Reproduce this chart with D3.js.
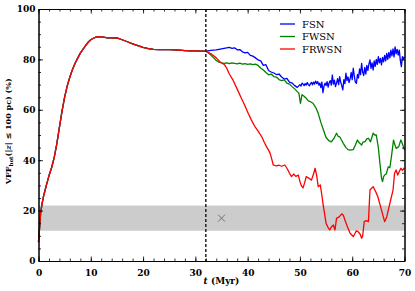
<!DOCTYPE html>
<html><head><meta charset="utf-8">
<script src="https://cdn.jsdelivr.net/npm/d3@7"></script>
<style>body{margin:0;background:#fff}svg{display:block}</style>
</head><body>
<svg id="c" width="415" height="291"></svg>
<script>
// ---- data ----
const seriesNames = ["FSN", "FWSN", "FRWSN"];
const seriesColors = ["#0000ff", "#008000", "#ff0000"];
const xTicks = [0, 10, 20, 30, 40, 50, 60, 70];
const yTicks = [0, 20, 40, 60, 80, 100];
const tSplit = 32;
const bandLow = 12, bandHigh = 22;
const crossT = 35, crossV = 17;

// shared evolution before t = 32 Myr
const sharedT = [0,0.2,0.4,0.7,1,1.5,2,2.5,3,3.5,4,4.5,5,5.5,6,6.5,7,7.5,8,8.5,9,9.5,10,10.5,11,11.5,12,13,14,15,16,17,18,19,20,21,22,23,24,25,26,27,28,29,30,31];
const sharedV = [7.5,13,19,23,26,30,33.8,37,41,46.5,53,59.5,65,69.5,73,76,78.5,80.5,82.5,84,85.5,86.8,87.8,88.4,88.8,89,88.9,88.6,88.6,88.5,87.8,87,86.2,85.5,84.8,84.3,84,83.9,83.9,83.9,83.8,83.7,83.5,83.4,83.4,83.3];

const fsnT = [32,33,34,35,36,36.5,37,37.5,38,38.5,39,39.5,40,40.5,41,41.5,42,42.5,43,43.5,44,44.5,45,45.5,46,46.5,47,47.5,48,48.5,49,49.5,
  50,50.2,50.4,50.6,50.8,51,51.2,51.4,51.6,51.8,52,52.2,52.4,52.6,52.8,53,53.2,53.4,53.6,53.8,
  54,54.2,54.4,54.6,54.8,55,55.2,55.4,55.6,55.8,56,56.2,56.4,56.6,56.8,57,57.2,57.4,57.6,57.8,
  58,58.2,58.4,58.6,58.8,59,59.2,59.4,59.6,59.8,60,60.2,60.4,60.6,60.8,61,61.2,61.4,61.6,61.8,
  62,62.2,62.4,62.6,62.8,63,63.2,63.4,63.6,63.8,64,64.2,64.4,64.6,64.8,65,65.2,65.4,65.6,65.8,
  66,66.2,66.4,66.6,66.8,67,67.2,67.4,67.6,67.8,68,68.2,68.4,68.6,68.8,69,69.2,69.4,69.6,69.8,70];
const fsnV = [83.3,83.6,83.8,84.2,84.6,84.8,84.4,84.6,83.8,83.9,83,82.6,82.8,81.6,81.3,80.6,79.8,79.4,77.6,77.9,75.6,75,74.6,74,74.2,73,72.2,72.5,71,70.6,69.6,68.9,
  70,69.4,70.6,70.2,69.6,70.4,69.8,70.8,70,69.5,70.3,70.9,69.9,71,70.2,71.4,70.4,71.2,69.8,70.6,
  68.8,71,66.8,69.4,70.6,69.6,71.2,69,70.8,71.6,69.8,73.8,70.2,71.8,69.2,70.6,72.4,70,73.2,71,
  69.6,67.9,72,70.4,74.5,71.6,73,70.8,72.4,74.8,72,76.5,73.4,71,70.5,74,72.6,76.2,74,78.4,
  75,73.6,76.8,74.2,77.6,75.6,78.2,79.8,76.4,78.6,75.8,79.4,77.2,80,78,81.1,78.6,80.4,77.8,80.8,
  79,81.6,79.4,82.4,80,82.8,80.6,83.7,81.4,84.2,81,85,82.2,84,81.7,83.7,79.6,77.1,81.1,80.2,81];

const fwsnT = [32,32.5,33,33.5,34,34.5,35,35.5,36,36.5,37,37.5,38,38.5,39,39.5,40,40.5,41,41.5,42,42.5,43,43.5,44,44.5,45,45.5,46,46.5,47,47.5,48,48.5,49,49.5,49.8,50.1,50.4,50.8,51.2,51.6,52,52.5,53,53.5,54,54.5,55,55.5,56,56.5,57,57.3,57.6,58,58.3,58.8,59.2,59.6,60.2,60.6,61,61.3,61.8,62.1,62.4,62.8,63.1,63.5,64,64.3,64.6,65,65.3,65.6,65.8,66,66.2,66.5,66.9,67.2,67.5,67.9,68.1,68.4,68.9,69.3,69.6,70];
const fwsnV = [83.3,82.6,81.6,80.6,79.6,78.9,78.6,78.4,78.6,78.3,78.6,78.4,78.2,78.5,78.1,78.3,78,78.2,77.9,78.1,77.6,76.6,75.8,74.8,73.9,74.2,73.2,73,72,71.6,71.9,70.6,70.2,69.2,68.3,67.2,66.6,62.5,66,65.4,64.6,63.5,63.2,62.6,61,58.6,55,52,49,47.8,47.3,48.6,50.7,49.5,49.3,47.8,46.7,45,44.2,44,44.2,46,48,47,46,47.3,47.3,48.5,48.7,47.3,50.7,50,50,45,38.8,33,31.5,33.5,34.1,34.5,37.4,37,41.4,48,46.5,44.7,45.4,48,46.5,44];

const frwsnT = [32,33,34,34.7,35.5,36,36.5,37.2,38,38.8,39.4,40.1,40.7,41.4,42,42.7,43.2,43.6,44,44.3,44.6,44.9,45.5,46,46.5,47.1,47.6,48,48.4,48.8,49.2,49.7,50,50.3,50.6,51,51.2,51.6,52.2,52.6,52.9,53.2,53.5,53.9,54.2,54.4,55,55.4,55.7,56,56.4,56.7,57,57.5,58,58.3,58.6,59.1,59.6,60.2,60.5,60.8,61.2,61.5,61.8,62,62.3,62.7,63.1,63.4,64,64.5,64.9,65.5,66.2,66.6,66.9,67.5,67.8,68.1,68.4,68.7,69.3,69.6,70];
const frwsnV = [83.3,82.2,80.6,79.1,78,76.5,74.2,71.8,68.2,64.6,62,58.6,56,53.3,51.5,49.3,47,45.4,44,42.7,40.5,38.1,37.7,38,37.6,38.1,36.5,34.8,33.5,34.5,33.6,34.1,31.5,29.8,29,31.8,33.5,33,32.1,34.5,36.8,34,29.5,30.2,26,22.9,15,13.2,12.3,13.5,14.3,12.3,16.9,17.5,18.7,18.2,16.3,13.5,11,9.7,10.8,12,11.5,10.7,9,10,15.6,16,15.6,28.2,29.5,27.5,25.5,21,15.6,17.5,20.2,25.5,28,34.8,36.1,34.1,36.8,36,37];

// ---- chart ----
const svg = d3.select("#c");
const L = 38.5, R = 404.5, T = 9, B = 261;
const x = d3.scaleLinear().domain([0, 70]).range([L, R]);
const y = d3.scaleLinear().domain([0, 100]).range([B, T]);

const g = svg.append("g");

// grey band
g.append("rect").attr("x", x(0)).attr("width", x(70) - x(0))
  .attr("y", y(bandHigh)).attr("height", y(bandLow) - y(bandHigh))
  .attr("fill", "#cccccc");

// cross marker
const cx = x(crossT), cy = y(crossV), cs = 3.5;
g.append("path").attr("d", `M${cx-cs},${cy-cs}L${cx+cs},${cy+cs}M${cx-cs},${cy+cs}L${cx+cs},${cy-cs}`)
  .attr("stroke", "#666").attr("stroke-width", 0.9).attr("fill", "none");

// lines
const series = [
  {t: sharedT.concat(fsnT), v: sharedV.concat(fsnV)},
  {t: sharedT.concat(fwsnT), v: sharedV.concat(fwsnV)},
  {t: sharedT.concat(frwsnT), v: sharedV.concat(frwsnV)}
];
const line = d3.line().x(d => x(d[0])).y(d => y(d[1]));
series.forEach((s, i) => {
  g.append("path").datum(s.t.map((t, j) => [t, s.v[j]]))
    .attr("d", line).attr("fill", "none")
    .attr("stroke", seriesColors[i]).attr("stroke-width", 1.3)
    .attr("stroke-linejoin", "round");
});

// dashed vertical line
g.append("line").attr("x1", x(tSplit)).attr("x2", x(tSplit))
  .attr("y1", y(100)).attr("y2", y(0))
  .attr("stroke", "#222").attr("stroke-width", 1.5).attr("stroke-dasharray", "3,2");

// axes with inward ticks
const font = "'DejaVu Serif', serif";
function minorX(){ return d3.range(0, 71, 2); }
function minorY(){ return d3.range(0, 101, 5); }
const ax = [
  {a: d3.axisBottom(x).tickValues(xTicks).tickSizeInner(-4.5).tickSizeOuter(0), tr: `translate(0,${B})`},
  {a: d3.axisTop(x).tickValues(xTicks).tickSizeInner(-4.5).tickSizeOuter(0).tickFormat(""), tr: `translate(0,${T})`},
  {a: d3.axisLeft(y).tickValues(yTicks).tickSizeInner(-4.5).tickSizeOuter(0), tr: `translate(${L},0)`},
  {a: d3.axisRight(y).tickValues(yTicks).tickSizeInner(-4.5).tickSizeOuter(0).tickFormat(""), tr: `translate(${R},0)`}
];
const mx = [
  {a: d3.axisBottom(x).tickValues(minorX()).tickSizeInner(-2.5).tickSizeOuter(0).tickFormat(""), tr: `translate(0,${B})`},
  {a: d3.axisTop(x).tickValues(minorX()).tickSizeInner(-2.5).tickSizeOuter(0).tickFormat(""), tr: `translate(0,${T})`},
  {a: d3.axisLeft(y).tickValues(minorY()).tickSizeInner(-2.5).tickSizeOuter(0).tickFormat(""), tr: `translate(${L},0)`},
  {a: d3.axisRight(y).tickValues(minorY()).tickSizeInner(-2.5).tickSizeOuter(0).tickFormat(""), tr: `translate(${R},0)`}
];
mx.concat(ax).forEach(o => {
  const gg = g.append("g").attr("transform", o.tr).call(o.a);
  gg.selectAll("path.domain").attr("stroke", "#000").attr("stroke-width", 1);
  gg.selectAll(".tick line").attr("stroke", "#000").attr("stroke-width", 0.8);
  gg.selectAll("text").attr("font-family", font).attr("font-weight", "bold")
    .attr("font-size", 9).attr("fill", "#000");
});
g.selectAll("g").filter(function(){ return this.getAttribute("transform") === `translate(0,${B})`; })
  .selectAll("text").attr("y", 9);
g.selectAll("g").filter(function(){ return this.getAttribute("transform") === `translate(${L},0)`; })
  .selectAll("text").attr("x", -3);

// axis titles
const xt = svg.append("text").attr("x", x(35)).attr("y", 284).attr("text-anchor", "middle")
  .attr("font-family", font).attr("font-weight", "bold").attr("font-size", 9);
xt.append("tspan").attr("font-style", "italic").text("t");
xt.append("tspan").text(" (Myr)");

const yt = svg.append("text").attr("transform", `translate(11,${y(51.5)}) rotate(-90)`)
  .attr("text-anchor", "middle").attr("font-family", font).attr("font-weight", "bold").attr("font-size", 8);
yt.append("tspan").text("VFF");
yt.append("tspan").attr("font-size", 5.5).attr("dy", 2).text("hot");
yt.append("tspan").attr("dy", -2).text("(|");
yt.append("tspan").attr("font-style", "italic").text("z");
yt.append("tspan").text("| ≤ 100 pc) (%)");

// legend
const lg = svg.append("g");
seriesNames.forEach((n, i) => {
  const ly = 24 + i * 12.5;
  lg.append("line").attr("x1", 280).attr("x2", 295).attr("y1", ly).attr("y2", ly)
    .attr("stroke", seriesColors[i]).attr("stroke-width", 1.3);
  lg.append("text").attr("x", 302).attr("y", ly + 3.5).attr("font-family", font)
    .attr("font-size", 10).text(n);
});
</script>
</body></html>
